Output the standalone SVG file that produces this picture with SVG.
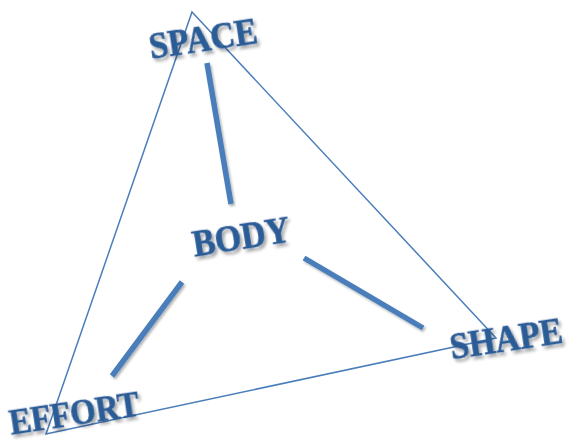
<svg xmlns="http://www.w3.org/2000/svg" width="568" height="444" viewBox="0 0 568 444">
<defs>
<filter id="ts" x="-20%" y="-40%" width="140%" height="180%">
<feDropShadow dx="2" dy="3" stdDeviation="1.5" flood-color="#000" flood-opacity="0.35"/>
</filter>
<filter id="ls" x="-20%" y="-20%" width="140%" height="140%">
<feDropShadow dx="1.5" dy="2" stdDeviation="1.2" flood-color="#000" flood-opacity="0.3"/>
</filter>
</defs>
<style>
.lbl{font-family:"Liberation Serif","Times New Roman",serif;font-weight:bold;font-size:34px;fill:#2C5B95;stroke:#2C5B95;stroke-width:0.6;text-anchor:middle;filter:url(#ts)}
.tri{fill:none;stroke:#4A7EBB;stroke-width:1.5}
.spoke{stroke:#4A7EBB;stroke-width:5.5;stroke-linecap:butt;filter:url(#ls)}
</style>
<g id="connectors">
<polygon class="tri" points="192,12 496,338 46,434"/>
<line class="spoke" x1="207" y1="63" x2="231" y2="204"/>
<line class="spoke" x1="304" y1="258" x2="423" y2="328"/>
<line class="spoke" x1="182" y1="282" x2="112" y2="376"/>
</g>
<g id="space"><text class="lbl" transform="translate(205,51) rotate(-8.5) scale(1,1.1)">SPACE</text></g>
<g id="body"><text class="lbl" transform="translate(243,249) rotate(-9) scale(1,1.1)">BODY</text></g>
<g id="shape"><text class="lbl" transform="translate(508,351) rotate(-8.5) scale(1,1.1)">SHAPE</text></g>
<g id="effort"><text class="lbl" transform="translate(76,425) rotate(-8.5) scale(0.96,1.05)">EFFORT</text></g>
</svg>
